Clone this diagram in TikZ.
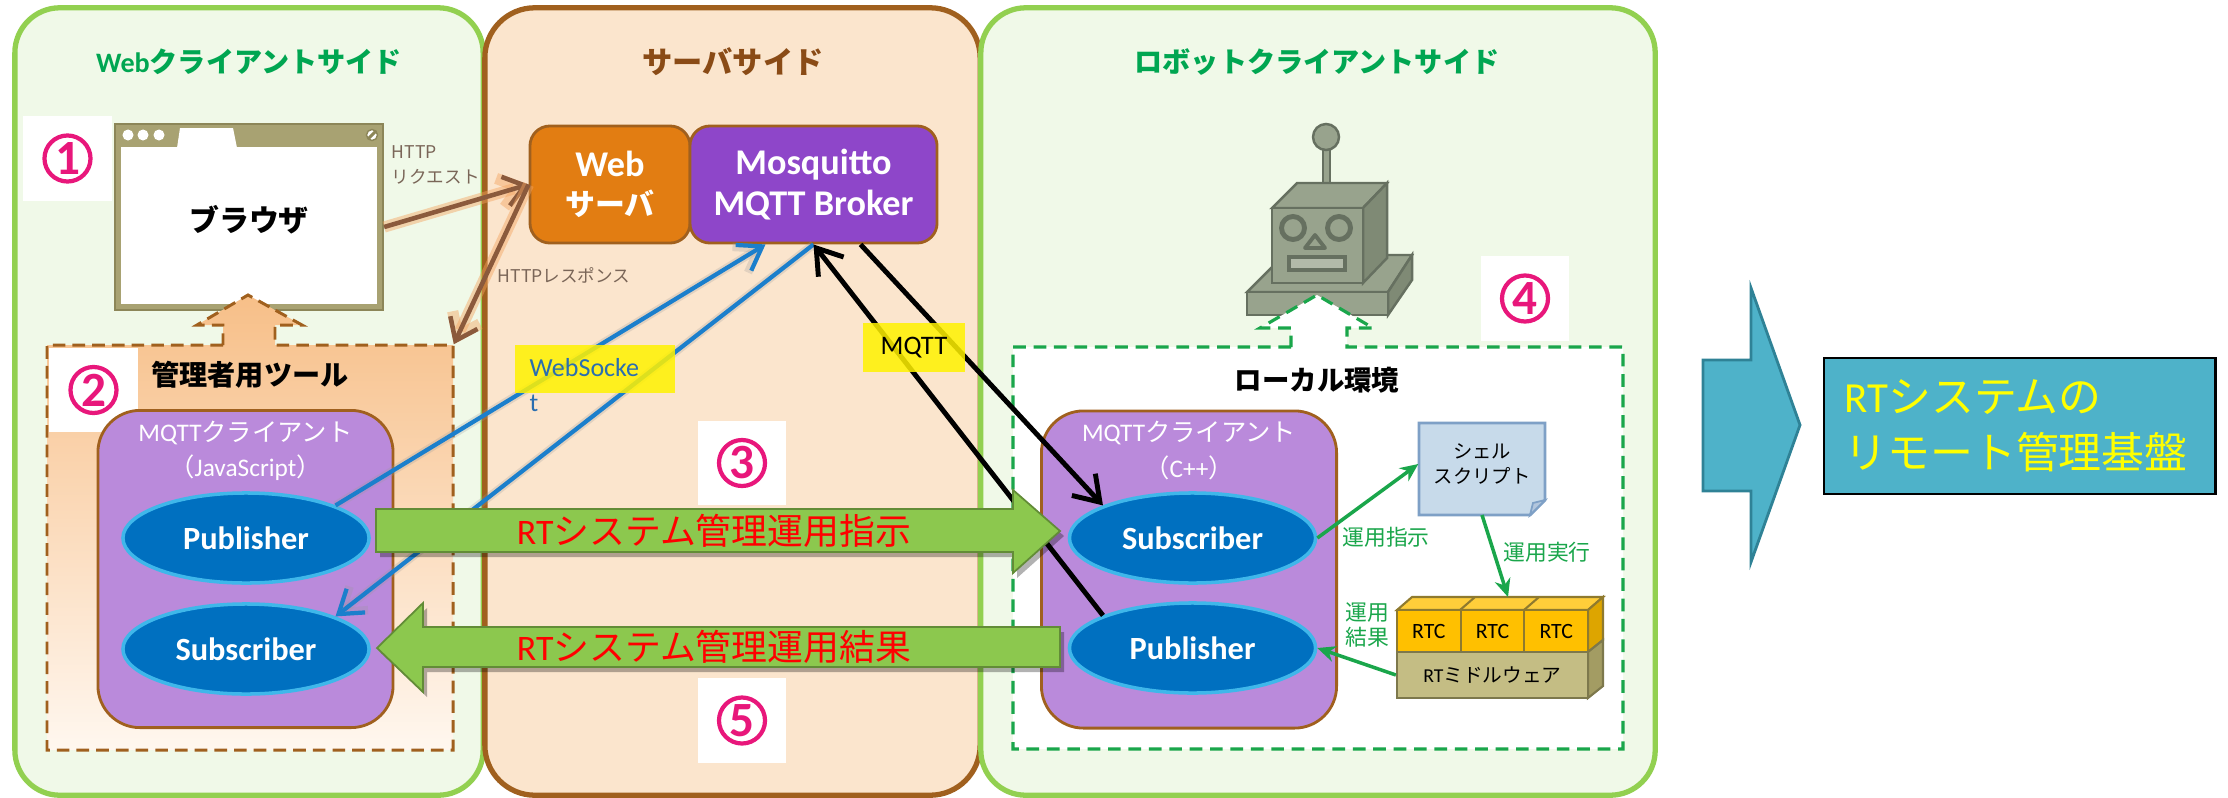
\documentclass[tikz,border=0pt]{standalone}
\usepackage{fontspec}
\setmainfont{Noto Sans CJK JP}
\newfontfamily\carlito{Carlito}
\usetikzlibrary{arrows.meta, shapes.geometric}

\definecolor{sidegreen}{HTML}{92D050}
\definecolor{sidebg}{HTML}{F0F9E8}
\definecolor{titlegreen}{HTML}{00A651}
\definecolor{srvbrown}{HTML}{A0601E}
\definecolor{srvbg}{HTML}{FBE5CD}
\definecolor{titlebrown}{HTML}{8A4B16}
\definecolor{weborange}{HTML}{E27D12}
\definecolor{brokerpurple}{HTML}{8E46C9}
\definecolor{clientlav}{HTML}{BA8ADB}
\definecolor{ellblue}{HTML}{0070C0}
\definecolor{ellrim}{HTML}{3FB7EA}
\definecolor{arrgreen}{HTML}{8CC84E}
\definecolor{numpink}{HTML}{E8177B}
\definecolor{httpbrown}{HTML}{8B5A3C}
\definecolor{httpglow}{HTML}{F4A460}
\definecolor{labelgray}{HTML}{7A6658}
\definecolor{wsblue}{HTML}{1B7FCC}
\definecolor{wstext}{HTML}{2A6EB0}
\definecolor{markyellow}{HTML}{FFF200}
\definecolor{admintop}{HTML}{F7BF88}
\definecolor{adminbot}{HTML}{FFF7EF}
\definecolor{browserolive}{HTML}{A8A272}
\definecolor{browseredge}{HTML}{8C8658}
\definecolor{localgreen}{HTML}{1AA64B}
\definecolor{robotface}{HTML}{98A38D}
\definecolor{robotside}{HTML}{7F8A75}
\definecolor{robotline}{HTML}{667060}
\definecolor{shellfill}{HTML}{C7DAEA}
\definecolor{shelledge}{HTML}{7EA0C6}
\definecolor{rtcyellow}{HTML}{FFC000}
\definecolor{rtctop}{HTML}{FFCE3A}
\definecolor{rtcside}{HTML}{DDA500}
\definecolor{rtcedge}{HTML}{8F7A2E}
\definecolor{mwkhaki}{HTML}{C4BD84}
\definecolor{mwside}{HTML}{A39C63}
\definecolor{mwedge}{HTML}{7D784C}
\definecolor{baseteal}{HTML}{4EB2C9}
\definecolor{tealedge}{HTML}{2F8296}
\definecolor{basetext}{HTML}{FFFF00}

\tikzset{
  panel/.style={line width=1.5pt, rounded corners=0.45cm, inner sep=0pt},
  sidetitle/.style={font=\bfseries\fontsize{8}{9}\selectfont},
  numbox/.style={fill=white, minimum width=0.88cm, minimum height=0.84cm, inner sep=0pt},
  circnum/.style={circle, draw=numpink, fill=white, line width=1.2pt, minimum size=0.46cm,
    inner sep=0pt, text=numpink, font=\carlito\bfseries\fontsize{14}{14}\selectfont},
  client/.style={draw=srvbrown, line width=0.8pt, fill=clientlav, rounded corners=0.42cm,
    minimum width=2.95cm, minimum height=3.17cm, inner sep=0pt},
  clienttitle/.style={text=white, align=center, font=\fontsize{7.2}{10}\selectfont},
  pubsub/.style={ellipse, draw=ellrim, line width=1pt, fill=ellblue, minimum width=2.46cm,
    minimum height=0.9cm, inner sep=0pt, text=white, font=\carlito\bfseries\fontsize{9.2}{10}\selectfont},
  srvbox/.style={draw=srvbrown, line width=0.8pt, rounded corners=0.2cm, minimum height=1.17cm,
    inner sep=0pt, text=white, align=center},
  httplabel/.style={text=labelgray, inner sep=0pt, font=\fontsize{5}{7.1}\selectfont},
  httpline/.style={draw=httpbrown, line width=1.3pt, -{Straight Barb[length=2mm,width=3mm]},
    preaction={draw=httpglow, line width=3.2pt, opacity=0.45}},
  wsline/.style={draw=wsblue, line width=1.2pt, -{Straight Barb[length=2.2mm,width=3mm]},
    preaction={draw=black!40, line width=2.4pt, opacity=0.25}},
  mqline/.style={draw=black, line width=1.4pt, -{Straight Barb[length=2.4mm,width=3.2mm]}},
  bigarrow/.style={fill=arrgreen, draw=arrgreen!70!black, line width=0.5pt},
  bigtext/.style={text=red, font=\fontsize{10.2}{11}\selectfont},
  hilite/.style={fill=markyellow, fill opacity=0.85, text opacity=1, inner sep=0pt},
  localarrow/.style={draw=localgreen, line width=1pt, -{Stealth[length=1.8mm,width=1.6mm]}},
  locallabel/.style={text=localgreen, align=center, font=\fontsize{6.2}{7.1}\selectfont},
  rtcbox/.style={draw=rtcedge, line width=0.6pt, fill=rtcyellow, minimum width=0.6367cm,
    minimum height=0.42cm, inner sep=0pt, font=\carlito\fontsize{6.2}{7}\selectfont},
  robotpart/.style={fill=robotface, draw=robotline, line width=0.7pt}
}

\begin{document}
\begin{tikzpicture}[x=0.01cm, y=-0.01cm]
\useasboundingbox (0,0) rectangle (2228,797);

% the three sides
\node[panel, draw=sidegreen, fill=sidebg, minimum width=4.68cm, minimum height=7.87cm] (webside) at (249,401.5) {};
\node[panel, draw=srvbrown, fill=srvbg, minimum width=4.95cm, minimum height=7.87cm, rounded corners=0.5cm] (srvside) at (732.5,401.5) {};
\node[panel, draw=sidegreen, fill=sidebg, minimum width=6.74cm, minimum height=7.87cm] (robotside) at (1318,401.5) {};

\node[sidetitle, text=titlegreen] (webtitle) at (249,62) {{\carlito Web}クライアントサイド};
\node[sidetitle, text=titlebrown, font=\bfseries\fontsize{8.6}{9}\selectfont] (srvtitle) at (733,62) {サーバサイド};
\node[sidetitle, text=titlegreen] (robottitle) at (1317,62) {ロボットクライアントサイド};

% browser window
\node[draw=browseredge, fill=browserolive, line width=0.6pt, minimum width=2.68cm, minimum height=1.86cm, inner sep=0pt] (browser) at (249,217) {};
\fill[white] (121,147) rectangle (377,304);
\fill[white] (177,148) -- (180,128) -- (233,128) -- (237,148) -- cycle;
\foreach \x in {128,143,159}
  \fill[white] (\x,135) circle (0.055cm);
\draw[browseredge, fill=white, line width=0.4pt] (372,135) circle (0.055cm);
\draw[browseredge, line width=0.9pt] (368,139) -- (376,131);
\node[font=\bfseries\fontsize{8.5}{9}\selectfont] (browsertext) at (249,220) {ブラウザ};

\node[numbox] (onebox) at (67.5,158.5) {};
\node[circnum] (one) at (onebox) {1};
\node[httplabel, anchor=west, align=left] (reqlabel) at (391,165) {HTTP\\リクエスト};

% admin tool
\node[minimum width=4.06cm, minimum height=4.05cm, inner sep=0pt] (admin) at (250,547.5) {};
\shadedraw[top color=admintop, bottom color=adminbot, draw=srvbrown, line width=0.85pt, dash pattern=on 3.6pt off 2pt]
  (223,345) -- (47,345) -- (47,750) -- (453,750) -- (453,345) -- (275,345) -- (275,325)
  -- (302,325) -- (248,295) -- (197,325) -- (223,325) -- cycle;
\node[numbox] (twobox) at (93.5,390) {};
\node[circnum] (two) at (twobox) {2};
\node[font=\bfseries\fontsize{8}{9}\selectfont] (admintitle) at (250,375) {管理者用ツール};

\node[client] (jsclient) at (245.5,569) {};
\node[clienttitle] (jstitle) at (245.5,450.5) {{\carlito MQTT}クライアント\\（{\carlito JavaScript}）};
\node[pubsub] (pubL) at (246,538) {Publisher};
\node[pubsub] (subL) at (246,649) {Subscriber};

% server side
\node[srvbox, fill=weborange, minimum width=1.6cm, font=\bfseries\fontsize{8.5}{11}\selectfont] (websrv) at (610,184.5) {{\carlito\fontsize{10.3}{11}\selectfont Web}\\サーバ};
\node[srvbox, fill=brokerpurple, minimum width=2.47cm, font=\carlito\bfseries\fontsize{10.3}{11.5}\selectfont] (broker) at (813.5,184.5) {Mosquitto\\MQTT Broker};
\node[httplabel, anchor=west] (reslabel) at (497,275) {HTTPレスポンス};

\node[numbox] (threebox) at (742,463) {};
\node[circnum] (three) at (threebox) {3};
\node[numbox] (fivebox) at (742,720.5) {};
\node[circnum] (five) at (fivebox) {5};

% robot
\fill[white] (1013,347) rectangle (1623,749);
\filldraw[robotpart] (1247,292) -- (1284,255) -- (1412,255) -- (1388,292) -- cycle;
\filldraw[robotpart, fill=robotside] (1388,292) -- (1412,255) -- (1412,280) -- (1388,315) -- cycle;
\filldraw[robotpart] (1247,292) rectangle (1388,315);
\filldraw[robotpart] (1323,148) rectangle (1330,198);
\filldraw[robotpart] (1326,137) circle (0.13cm);
\filldraw[robotpart] (1272,208) -- (1297,183) -- (1387,183) -- (1363,208) -- cycle;
\filldraw[robotpart, fill=robotside] (1363,208) -- (1387,183) -- (1387,258) -- (1363,283) -- cycle;
\filldraw[robotpart] (1272,208) rectangle (1363,283);
\draw[robotline, line width=1.4pt] (1293,228) circle (0.115cm) (1339,228) circle (0.115cm);
\draw[robotline, line width=1.1pt, line join=round] (1315,235) -- (1305,248) -- (1325,248) -- cycle;
\filldraw[robotpart, fill=robotface!75!white, line width=1.2pt] (1289,257) rectangle (1345,270);

\filldraw[fill=white, draw=localgreen, line width=0.9pt, dash pattern=on 3.6pt off 2.2pt]
  (1291,347) -- (1013,347) -- (1013,749) -- (1623,749) -- (1623,347) -- (1347,347) -- (1347,328)
  -- (1373,328) -- (1317,295) -- (1260,328) -- (1291,328) -- cycle;
\node[numbox] (fourbox) at (1525,298.5) {};
\node[circnum] (four) at (fourbox) {4};
\node[font=\bfseries\fontsize{7.8}{9}\selectfont] (localtitle) at (1317,380) {ローカル環境};

\node[client] (cppclient) at (1189,569.5) {};
\node[clienttitle] (cpptitle) at (1189,450.5) {{\carlito MQTT}クライアント\\（{\carlito C++}）};
\node[pubsub] (subR) at (1192.5,538) {Subscriber};
\node[pubsub] (pubR) at (1192.5,648) {Publisher};

% shell script and RT middleware
\filldraw[fill=shellfill, draw=shelledge, line width=0.8pt] (1419,423) -- (1545,423) -- (1545,500) -- (1530,515) -- (1419,515) -- cycle;
\filldraw[fill=shelledge!60, draw=shelledge, line width=0.5pt] (1545,500) -- (1533,503) -- (1530,515) -- cycle;
\node[font=\fontsize{5.5}{7.2}\selectfont, align=center, minimum width=1.26cm, minimum height=0.92cm, inner sep=0pt] (shell) at (1482,464) {シェル\\スクリプト};

\filldraw[fill=rtctop, draw=rtcedge, line width=0.6pt] (1397,610) -- (1412,597) -- (1603,597) -- (1588,610) -- cycle;
\draw[rtcedge, line width=0.6pt] (1460,610) -- (1475,597) (1524,610) -- (1539,597);
\filldraw[fill=rtcside, draw=rtcedge, line width=0.6pt] (1588,610) -- (1603,597) -- (1603,640) -- (1588,652) -- cycle;
\filldraw[fill=mwside, draw=mwedge, line width=0.6pt] (1588,652) -- (1603,640) -- (1603,686) -- (1588,698) -- cycle;
\node[rtcbox] (rtca) at (1428.8,631) {RTC};
\node[rtcbox] (rtcb) at (1492.5,631) {RTC};
\node[rtcbox] (rtcc) at (1556.2,631) {RTC};
\node[draw=mwedge, line width=0.6pt, fill=mwkhaki, minimum width=1.91cm, minimum height=0.46cm, inner sep=0pt, font=\fontsize{5.6}{7}\selectfont] (mw) at (1492.5,675) {{\carlito RT}ミドルウェア};

\coordinate (shellfoot) at (1482,515);
\coordinate (rtctopface) at (1508,597);
\draw[localarrow] (subR.east) -- (shell.west);
\draw[localarrow] (shellfoot) -- (rtctopface);
\draw[localarrow] (mw.west) -- (pubR.east);
\node[locallabel] (cmdlabel) at (1386,537) {運用指示};
\node[locallabel] (execlabel) at (1547,552) {運用実行};
\node[locallabel] (resultlabel) at (1367,625) {運用\\結果};

% HTTP, WebSocket and MQTT links
\draw[httpline] ([yshift=-0.1cm]browser.east) -- (websrv.west);
\draw[httpline] (websrv.west) -- (admin.north east);
\draw[wsline] (pubL.20) -- ([xshift=-0.48cm]broker.south);
\draw[wsline] (broker.south) -- (subL.20);
\draw[mqline] (pubR.160) -- (broker.south);
\draw[mqline] ([xshift=0.47cm]broker.south) -- (subR.160);

\node[hilite, minimum width=1.6cm, minimum height=0.48cm] (wsmark) at (595,369) {};
\node[anchor=west, align=left, text=wstext, inner sep=0pt, font=\carlito\fontsize{7.4}{10.2}\selectfont] (wslabel) at (529,385) {WebSocke\\t};
\node[hilite, minimum width=1.02cm, minimum height=0.49cm, font=\carlito\fontsize{7.6}{9}\selectfont] (mqttlabel) at (914,347.5) {MQTT};

% operation request and result
\fill[black, opacity=0.3, shift={(4,5)}] (376,509) -- (1013,509) -- (1013,490) -- (1060,531) -- (1013,573) -- (1013,552) -- (376,552) -- cycle;
\filldraw[bigarrow] (376,509) -- (1013,509) -- (1013,490) -- (1060,531) -- (1013,573) -- (1013,552) -- (376,552) -- cycle;
\fill[black, opacity=0.3, shift={(4,5)}] (1060,627) -- (423,627) -- (423,603) -- (377,648) -- (423,692) -- (423,667) -- (1060,667) -- cycle;
\filldraw[bigarrow] (1060,627) -- (423,627) -- (423,603) -- (377,648) -- (423,692) -- (423,667) -- (1060,667) -- cycle;
\node[bigtext] (cmdtext) at (714,531) {{\carlito RT}システム管理運用指示};
\node[bigtext] (restext) at (714,647) {{\carlito RT}システム管理運用結果};

% result
\filldraw[fill=baseteal, draw=tealedge, line width=0.8pt] (1703,360) -- (1751,360) -- (1751,288) -- (1800,425) -- (1751,562) -- (1751,491) -- (1703,491) -- cycle;
\node[draw=black, line width=0.8pt, fill=baseteal, minimum width=3.91cm, minimum height=1.36cm, text width=3.5cm, align=left, text=basetext, font=\fontsize{12.2}{16}\selectfont] (platform) at (2019.5,426) {{\carlito RT}システムの\\リモート管理基盤};
\end{tikzpicture}
\end{document}
